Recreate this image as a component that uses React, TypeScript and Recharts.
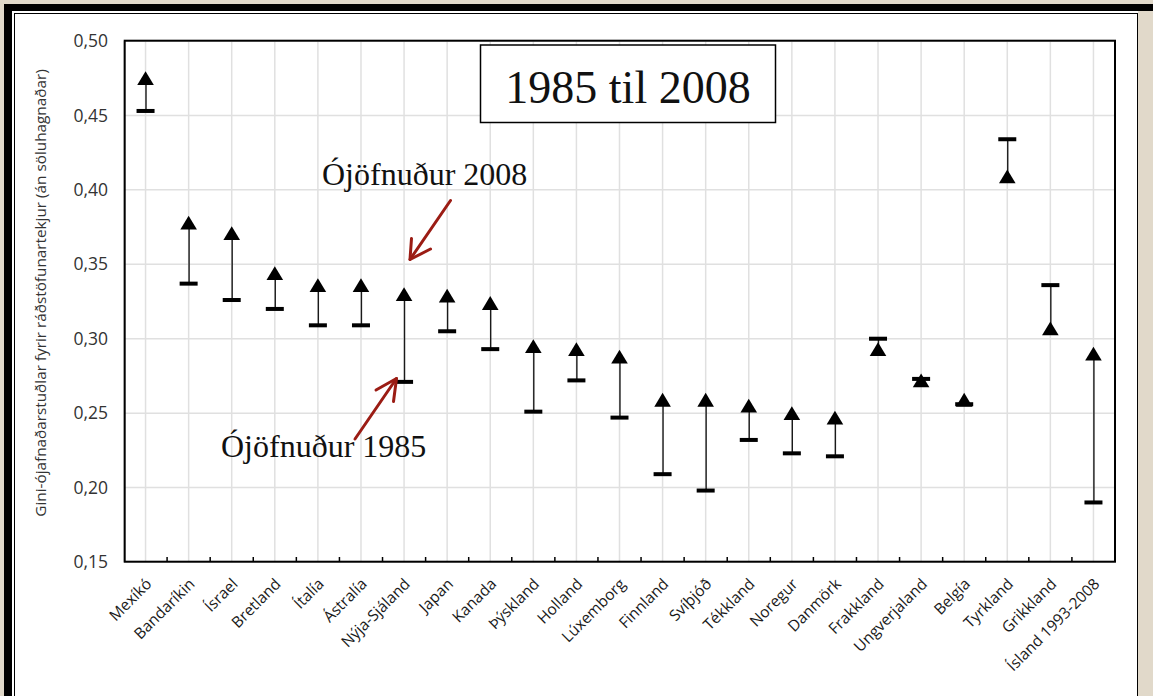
import React from 'react';
import { ComposedChart, Bar, Line, XAxis, YAxis, CartesianGrid } from 'recharts';

const countries = [
  'Mexíkó', 'Bandaríkin', 'Ísrael', 'Bretland', 'Ítalía', 'Ástralía', 'Nýja-Sjáland',
  'Japan', 'Kanada', 'Þýskland', 'Holland', 'Lúxemborg', 'Finnland', 'Svíþjóð',
  'Tékkland', 'Noregur', 'Danmörk', 'Frakkland', 'Ungverjaland', 'Belgía',
  'Tyrkland', 'Grikkland', 'Ísland 1993-2008',
];
const gini1985 = [
  0.453, 0.337, 0.326, 0.320, 0.309, 0.309, 0.271,
  0.305, 0.293, 0.251, 0.272, 0.247, 0.209, 0.198,
  0.232, 0.223, 0.221, 0.300, 0.273, 0.256,
  0.434, 0.336, 0.190,
];
const gini2008 = [
  0.475, 0.378, 0.371, 0.344, 0.336, 0.336, 0.330,
  0.329, 0.324, 0.295, 0.293, 0.288, 0.259, 0.259,
  0.255, 0.250, 0.247, 0.293, 0.272, 0.259,
  0.409, 0.307, 0.290,
];
const yTicks = [0.15, 0.2, 0.25, 0.3, 0.35, 0.4, 0.45, 0.5];

const data = countries.map((name, i) => ({
  name,
  v1985: gini1985[i],
  v2008: gini2008[i],
  range: [Math.min(gini1985[i], gini2008[i]), Math.max(gini1985[i], gini2008[i])],
}));

const SANS = '"Open Sans", "Noto Sans", sans-serif';
const SERIF = '"Liberation Serif", "DejaVu Serif", serif';

const Connector = (props: any) => {
  const { x, y, width, height } = props;
  if (x == null || y == null) return null;
  const cx = x + width / 2;
  const top = Math.min(y, y + height);
  const h = Math.abs(height);
  return <line x1={cx} x2={cx} y1={top} y2={top + h} stroke="#1a1a1a" strokeWidth={1.4} />;
};

const Dash = (props: any) => {
  const { cx, cy, index } = props;
  if (cx == null || cy == null) return <g key={`d${index}`} />;
  return <rect key={`d${index}`} x={cx - 9} y={cy - 2} width={18} height={4} fill="#000" />;
};

const Tri = (props: any) => {
  const { cx, cy, index } = props;
  if (cx == null || cy == null) return <g key={`t${index}`} />;
  const w = 8.3, h = 6.9;
  return (
    <polygon
      key={`t${index}`}
      points={`${cx},${cy - h} ${cx - w},${cy + h} ${cx + w},${cy + h}`}
      fill="#000"
    />
  );
};

const XTick = (props: any) => {
  const { x, y, payload } = props;
  const off = payload && payload.offset != null ? payload.offset : 0;
  const ax = x + 7;
  const ay = y + 23;
  return (
    <g>
      <line x1={x + off} x2={x + off} y1={y} y2={y - 5} stroke="#000" strokeWidth={1.5} />
      <text
        x={ax}
        y={ay}
        transform={`rotate(-45 ${ax} ${ay})`}
        textAnchor="end"
        fontSize={15.5}
        fontFamily={SANS}
        fill="#1a1a1a"
      >
        {payload.value}
      </text>
    </g>
  );
};

const fmt = (v: number) => v.toFixed(2).replace('.', ',');

export default function App() {
  return (
    <div
      style={{
        position: 'absolute',
        left: 0,
        top: 0,
        width: 1153,
        height: 696,
        overflow: 'hidden',
        background: '#e1d9ca',
      }}
    >
      <div style={{ position: 'absolute', left: 4, top: 4, width: 1149, height: 7, background: '#000' }} />
      <div style={{ position: 'absolute', left: 4, top: 4, width: 8, height: 692, background: '#000' }} />
      <div style={{ position: 'absolute', left: 12, top: 11, width: 1126, height: 685, background: '#fff' }} />
      <div
        style={{
          position: 'absolute',
          left: 14,
          top: 13,
          width: 1124,
          height: 700,
          boxSizing: 'border-box',
          borderLeft: '1.5px solid #000',
          borderTop: '1.5px solid #000',
          borderRight: '1.5px solid #000',
        }}
      />
      <div style={{ position: 'absolute', left: 0, top: 0 }}>
        <ComposedChart
          width={1153}
          height={696}
          data={data}
          margin={{ top: 41, right: 38, bottom: 34, left: 64 }}
        >
          <CartesianGrid stroke="#e0e0e0" strokeWidth={1.5} />
          <XAxis
            dataKey="name"
            interval={0}
            tickLine={false}
            tickSize={0}
            tickMargin={0}
            tick={<XTick />}
            axisLine={false}
            height={100}
          />
          <YAxis
            domain={[0.15, 0.5]}
            ticks={yTicks}
            tickFormatter={fmt}
            tick={{ fontSize: 17.5, fill: '#333', fontFamily: SANS }}
            tickLine={false}
            tickSize={0}
            tickMargin={16}
            axisLine={false}
            width={60}
            allowDataOverflow
          />
          <Bar dataKey="range" barSize={10} shape={<Connector />} isAnimationActive={false} />
          <Line
            dataKey="v1985"
            stroke="none"
            dot={(p: any) => <Dash {...p} key={`d${p.index}`} />}
            activeDot={false}
            isAnimationActive={false}
          />
          <Line
            dataKey="v2008"
            stroke="none"
            dot={(p: any) => <Tri {...p} key={`t${p.index}`} />}
            activeDot={false}
            isAnimationActive={false}
          />
        </ComposedChart>
      </div>
      <svg
        width={1153}
        height={696}
        style={{ position: 'absolute', left: 0, top: 0, pointerEvents: 'none' }}
      >
        <rect x={124.7} y={40.7} width={990.3} height={521} fill="none" stroke="#000" strokeWidth={2} />
        <text
          transform="translate(46 293) rotate(-90)"
          textAnchor="middle"
          fontSize={15.3}
          fontFamily={SANS}
          fill="#333"
        >
          Gini-ójafnaðarstuðlar fyrir ráðstöfunartekjur (án söluhagnaðar)
        </text>
        <rect x={480.5} y={45} width={295} height={77.5} fill="#fff" stroke="#000" strokeWidth={1.5} />
        <text x={628} y={103} textAnchor="middle" fontSize={46} fontFamily={SERIF} fill="#111">
          1985 til 2008
        </text>
        <text x={322} y={185} fontSize={32} fontFamily={SERIF} fill="#111">
          Ójöfnuður 2008
        </text>
        <g stroke="#9b1c14" strokeWidth={3} fill="none" strokeLinecap="round" strokeLinejoin="round">
          <line x1={450.5} y1={200.5} x2={410} y2={259.5} />
          <polyline points="411.5,238.5 410,259.5 430.5,249" />
        </g>
        <text x={221} y={457} fontSize={32} fontFamily={SERIF} fill="#111">
          Ójöfnuður 1985
        </text>
        <g stroke="#9b1c14" strokeWidth={3} fill="none" strokeLinecap="round" strokeLinejoin="round">
          <line x1={355} y1={439} x2={396.5} y2={378.5} />
          <polyline points="376,390 396.5,378.5 393.5,401.5" />
        </g>
      </svg>
    </div>
  );
}
